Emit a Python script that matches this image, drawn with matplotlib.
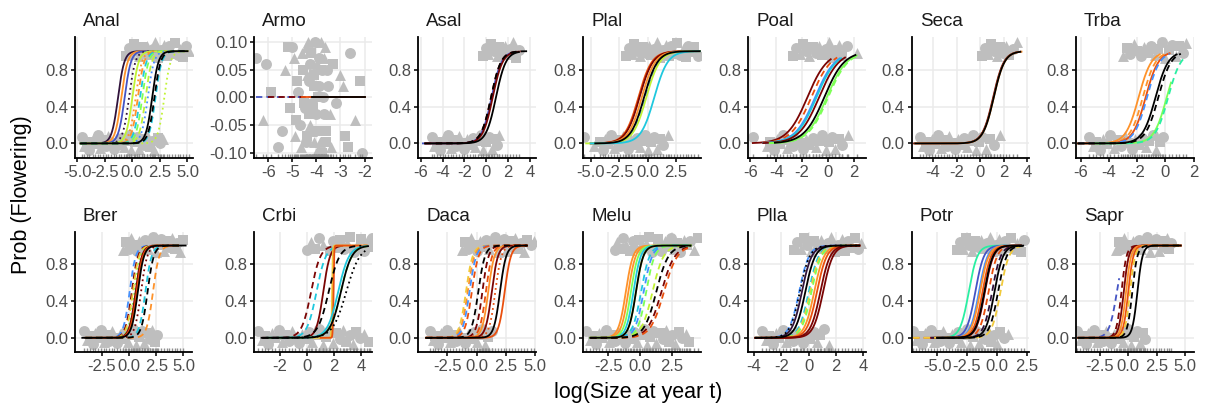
import numpy as np
import matplotlib.pyplot as plt
from matplotlib.transforms import blended_transform_factory

plt.rcParams["font.family"] = ["Liberation Sans", "DejaVu Sans"]

# ---- data -------------------------------------------------------------
species = ["Anal", "Armo", "Asal", "Plal", "Poal", "Seca", "Trba",
           "Brer", "Crbi", "Daca", "Melu", "Plla", "Potr", "Sapr"]

x_ticklabels = [
    ["-5.0", "-2.5", "0.0", "2.5", "5.0"],
    ["-6", "-5", "-4", "-3", "-2"],
    ["-6", "-4", "-2", "0", "2", "4"],
    ["-5.0", "-2.5", "0.0", "2.5"],
    ["-6", "-4", "-2", "0", "2"],
    ["-4", "-2", "0", "2", "4"],
    ["-6", "-4", "-2", "0", "2"],
    ["-2.5", "0.0", "2.5", "5.0"],
    ["-2", "0", "2", "4"],
    ["-2.5", "0.0", "2.5", "5.0"],
    ["-2.5", "0.0", "2.5"],
    ["-4", "-2", "0", "2", "4"],
    ["-5.0", "-2.5", "0.0", "2.5"],
    ["-2.5", "0.0", "2.5", "5.0"],
]
y_ticklabels = ["0.0", "0.4", "0.8"]
armo_yticklabels = ["-0.10", "-0.05", "0.00", "0.05", "0.10"]

x_lims = [(-5.21, 5.46), (-6.58, -1.70), (-6.22, 4.55), (-5.65, 4.69),
          (-6.15, 2.90), (-5.80, 4.15), (-6.35, 2.00), (-4.97, 5.83),
          (-3.89, 4.78), (-4.96, 5.05), (-4.45, 4.80), (-4.42, 4.17),
          (-7.12, 2.70), (-4.59, 5.72)]

# vertical jitter of the observed points (0 = not flowering, 1 = flowering)
jit = [0.07, -0.04, 0.01, -0.09, 0.05, -0.02, 0.09, -0.07, 0.03, -0.05,
       0.08, -0.01, -0.08, 0.04, -0.03, 0.06, -0.06, 0.02, 0.10, -0.10,
       0.00, 0.07, -0.08, 0.05, -0.03, 0.09, -0.06, 0.02, -0.09, 0.06,
       -0.01, 0.04, -0.07, 0.08, -0.04, 0.03, -0.10, 0.10, -0.02, 0.05]

# log size of non-flowering (lo) and flowering (hi) individuals
anal_lo = [-4.6, -4.4, -4.1, -3.9, -3.6, -3.4, -3.1, -2.9, -2.7, -2.4, -2.2, -1.9, -1.7, -1.5, -1.2, -1.0,
           -0.8, -0.5, -0.3, -0.1, 0.2, 0.4, 0.6, 0.9, 1.1, 1.3, 1.6, 1.8, 2.0, 2.3, 2.5, 2.8]
anal_hi = [-0.6, -0.35, -0.1, 0.15, 0.4, 0.6, 0.85, 1.1, 1.35, 1.6, 1.85, 2.1, 2.35, 2.6, 2.85, 3.1,
           3.35, 3.6, 3.85, 4.1, 4.35, 4.6, 4.85, 5.15]
armo_lo = [-6.5, -6.2, -5.9, -5.6, -5.3, -5.1, -5.0, -4.9, -4.8, -4.7, -4.6, -4.5, -4.45, -4.4, -4.3, -4.25,
           -4.2, -4.1, -4.05, -4.0, -3.95, -3.9, -3.85, -3.8, -3.7, -3.65, -3.6, -3.5, -3.4, -3.3, -3.2, -3.0,
           -2.8, -2.6, -2.4, -2.2, -2.1, -4.35, -4.15, -3.75,
           -4.95, -4.85, -4.75, -4.65, -4.55, -4.48, -4.42, -4.38, -4.32, -4.28, -4.22, -4.18, -4.12, -4.08,
           -4.02, -3.98, -3.92, -3.88, -3.82, -3.78, -3.72, -3.68, -3.62, -3.55, -3.45, -5.2, -5.45, -2.9,
           -2.7, -6.1]
armo_hi = []
asal_lo = [-5.0, -4.75, -4.5, -4.25, -4.0, -3.75, -3.5, -3.25, -3.0, -2.75, -2.5, -2.25, -2.0, -1.75, -1.5,
           -1.25, -1.0, -0.75, -0.5, -0.25, 0.0, 0.25, 0.5, 0.75, 1.0, 1.2]
asal_hi = [-0.3, -0.05, 0.2, 0.45, 0.7, 0.95, 1.2, 1.45, 1.7, 1.95, 2.2, 2.45, 2.7, 3.0]
plal_lo = [-5.6, -4.7, -4.2, -3.95, -3.7, -3.45, -3.2, -2.95, -2.7, -2.45, -2.2, -1.95, -1.7, -1.45, -1.2,
           -0.95, -0.7, -0.45, -0.2, 0.05, 0.3, 0.55, 0.8, 1.1, 1.4, 1.8]
plal_hi = [-1.9, -1.65, -1.4, -1.15, -0.9, -0.65, -0.4, -0.15, 0.1, 0.35, 0.6, 0.85, 1.1, 1.35, 1.6, 1.85,
           2.1, 2.35, 2.6, 2.85, 3.1, 3.35, 3.6, 3.85, 4.1, 4.4]
poal_lo = [-5.8, -4.7, -4.45, -4.2, -3.95, -3.7, -3.45, -3.2, -2.95, -2.7, -2.45, -2.2, -1.95, -1.7, -1.45,
           -1.2, -0.95, -0.7, -0.45, -0.2, 0.05, 0.3, 0.55, 0.8, 1.1, 1.5]
poal_hi = [-2.7, -2.45, -2.2, -1.95, -1.7, -1.45, -1.2, -0.95, -0.7, -0.45, -0.2, 0.05, 0.3, 0.55, 0.8, 1.1,
           1.45, 2.25]
seca_lo = [-5.1, -4.85, -4.6, -4.35, -4.1, -3.85, -3.6, -3.35, -3.1, -2.85, -2.6, -2.35, -2.1, -1.85, -1.6,
           -1.35, -1.1, -0.85, -0.6, -0.35, -0.1, 0.15, 0.45, 0.8, 1.2, 1.7]
seca_hi = [0.15, 0.4, 0.65, 0.9, 1.15, 1.4, 1.65, 1.9, 2.15, 2.45, 2.75, 3.1]
trba_lo = [-5.4, -5.15, -4.9, -4.65, -4.4, -4.15, -3.9, -3.65, -3.4, -3.15, -2.9, -2.65, -2.4, -2.15, -1.9,
           -1.65, -1.4, -1.15, -0.9, -0.65, -0.4, -0.2]
trba_hi = [-3.0, -2.75, -2.5, -2.25, -2.0, -1.75, -1.5, -1.25, -1.0, -0.75, -0.5, -0.25, 0.0, 0.25, 0.5,
           0.75, 1.0, 1.25, 1.5]
brer_lo = [-4.1, -3.85, -3.6, -3.35, -3.1, -2.85, -2.6, -2.35, -2.1, -1.85, -1.6, -1.35, -1.1, -0.85, -0.6,
           -0.35, -0.1, 0.15, 0.4, 0.65, 0.9, 1.15, 1.4, 1.65, 1.9, 2.15, 2.4, 2.6]
brer_hi = [-0.55, -0.3, -0.05, 0.2, 0.45, 0.7, 0.95, 1.2, 1.45, 1.7, 1.95, 2.2, 2.45, 2.7, 2.95, 3.2, 3.45,
           3.7, 3.95, 4.2, 4.45, 4.7, 5.0]
crbi_lo = [-3.6, -3.35, -3.1, -2.85, -2.6, -2.35, -2.1, -1.85, -1.6, -1.35, -1.1, -0.85, -0.6, -0.35, -0.1,
           0.15, 0.4, 0.65, 0.9, 1.15, 1.4, 1.65, 1.9, 2.15, 2.4, 2.65, 2.9, 3.15, 3.4, 3.65, 3.9, 4.2, 4.6]
crbi_hi = [0.0, 0.3, 0.6, 0.9, 1.2, 1.7, 1.95, 2.2, 2.45, 2.7, 2.95, 3.2, 3.45, 3.7, 3.95, 4.2, 4.45, 4.65,
           4.8]
daca_lo = [-4.0, -3.75, -3.5, -3.25, -3.0, -2.75, -2.5, -2.25, -2.0, -1.75, -1.5, -1.25, -1.0, -0.75, -0.5,
           -0.25, 0.0, 0.25, 0.5, 0.75, 1.0, 1.3]
daca_hi = [-1.2, -0.95, -0.7, -0.45, -0.2, 0.05, 0.3, 0.55, 0.8, 1.05, 1.3, 1.55, 1.8, 2.05, 2.3, 2.55, 2.8,
           3.05, 3.3, 3.55, 3.8, 4.05, 4.3, 4.6, 4.9]
melu_lo = [-4.2, -3.95, -3.7, -3.45, -3.2, -2.95, -2.7, -2.45, -2.2, -1.95, -1.7, -1.45, -1.2, -0.95, -0.7,
           -0.45, -0.2, 0.05, 0.3, 0.55, 0.8, 1.05, 1.3, 1.55, 1.8, 2.05, 2.3, 2.55, 2.8, 3.05, 3.3, 3.6, 3.9]
melu_hi = [-1.95, -1.8, -1.55, -1.3, -1.05, -0.8, -0.55, -0.3, -0.05, 0.2, 0.45, 0.7, 0.95, 1.2, 1.45, 1.7,
           1.95, 2.2, 2.45, 2.7, 2.95, 3.2, 3.45, 3.7, 3.95, 4.25, 4.6]
plla_lo = [-3.4, -3.15, -2.9, -2.65, -2.4, -2.15, -1.9, -1.65, -1.4, -1.15, -0.9, -0.65, -0.4, -0.15, 0.1,
           0.35, 0.6, 0.85, 1.1, 1.47]
plla_hi = [-1.1, -0.85, -0.6, -0.35, -0.1, 0.15, 0.4, 0.65, 0.9, 1.15, 1.4, 1.65, 1.9, 2.15, 2.4, 2.65, 2.9,
           3.15, 3.4, 3.6, 3.8]
potr_lo = [-7.0, -6.75, -6.5, -6.25, -6.0, -5.75, -5.5, -5.25, -5.0, -4.75, -4.5, -4.25, -4.0, -3.75, -3.5,
           -3.25, -3.0, -2.75, -2.5, -2.25, -2.0, -1.75, -1.5, -1.25, -1.0, -0.75, -0.5, -0.25, 0.0, 0.3,
           0.6, 0.9]
potr_hi = [-3.3, -3.05, -2.8, -2.55, -2.3, -2.05, -1.8, -1.55, -1.3, -1.05, -0.8, -0.55, -0.3, -0.05, 0.2,
           0.45, 0.7, 0.95, 1.2, 1.45, 1.7, 2.0, 2.3]
sapr_lo = [-4.5, -4.25, -4.0, -3.75, -3.5, -3.25, -3.0, -2.75, -2.5, -2.25, -2.0, -1.75, -1.5, -1.25, -1.0,
           -0.75, -0.5, -0.25, 0.0, 0.25, 0.5, 0.75, 1.0, 1.25, 1.45]
sapr_hi = [-1.1, -0.85, -0.6, -0.35, -0.1, 0.15, 0.4, 0.65, 0.9, 1.15, 1.4, 1.65, 1.9, 2.15, 2.4, 2.65, 2.9,
           3.15, 3.4, 3.6, 3.75]

# fitted logistic curves: (midpoint, slope, year, site, size from, size to)
# year -1 = overall mean (black); site 0/1/2 -> linetype
anal_curves = [(-1.3, 3.5, 0, 0, -4.7, 5.0), (-1.0, 3.5, 8, 0, -4.7, 5.0), (-0.7, 3.5, 1, 0, -4.7, 5.0),
               (-0.3, 3.5, 0, 2, -4.7, 5.0), (0.0, 3.5, 6, 0, -4.7, 5.0), (0.3, 3.5, 8, 2, -4.7, 5.0),
               (0.5, 3.5, 8, 1, -4.7, 5.0), (0.7, 3.5, 3, 1, -4.7, 5.0), (0.9, 3.5, 5, 1, -4.7, 5.0),
               (1.2, 3.5, 6, 1, -4.7, 5.0), (1.4, 3.5, 2, 2, -4.7, 5.0), (2.1, 3.5, 3, 1, -4.7, 5.0),
               (2.9, 3.5, 6, 2, -4.7, 5.0), (1.8, 3.5, -1, 0, -4.7, 5.0), (2.0, 3.5, -1, 1, -4.7, 5.0)]
armo_curves = [(30, 1.0, 1, 1, -6.5, -2.0), (30, 1.0, 10, 1, -6.0, -2.0), (30, 1.0, 9, 0, -4.6, -2.0),
               (30, 1.0, -1, 0, -4.2, -2.0)]
asal_curves = [(0.5, 2.2, 1, 0, -5.8, 2.6), (0.6, 2.2, 10, 0, -5.6, 3.0), (0.45, 2.2, 10, 1, -5.6, 3.2),
               (0.45, 2.2, -1, 1, -4.6, 3.8), (0.9, 2.2, -1, 0, -5.6, 3.0)]
plal_curves = [(-0.8, 1.7, 9, 0, -5.0, 4.6), (-0.7, 1.7, 10, 0, -5.0, 4.6), (-0.5, 1.7, 8, 0, -5.0, 4.6),
               (-0.2, 1.7, 2, 1, -5.0, 4.6), (-0.1, 1.7, 6, 0, -5.4, 4.6), (0.6, 1.7, 3, 0, -5.0, 4.6),
               (-0.3, 1.7, -1, 0, -4.6, 4.6)]
poal_curves = [(-1.6, 1.3, 10, 0, -5.8, 0.2), (-1.3, 1.3, 9, 1, -5.0, 0.7), (-1.0, 1.3, 2, 0, -5.0, 0.9),
               (-0.9, 1.3, 3, 0, -5.0, 1.0), (-0.7, 1.3, 10, 0, -5.0, 1.3), (0.0, 1.3, 5, 1, -4.5, 2.3),
               (-0.1, 1.3, 5, 0, -4.5, 2.2), (-0.3, 1.3, -1, 0, -4.1, 2.1)]
seca_curves = [(1.1, 2.2, 10, 0, -5.6, 3.4), (1.15, 2.2, 8, 0, -5.5, 3.5), (1.15, 2.2, -1, 0, -5.5, 3.4)]
trba_curves = [(-1.9, 2.2, 8, 0, -6.2, -0.4), (-1.6, 2.2, 8, 1, -6.2, 0.0), (-1.4, 2.2, 9, 0, -6.2, 0.3),
               (-1.3, 2.2, 2, 1, -6.2, 0.3), (0.1, 2.2, 5, 0, -5.0, 0.4), (0.2, 2.2, 4, 1, -5.0, 1.35),
               (-0.7, 2.2, -1, 0, -6.2, 0.8), (-0.5, 2.2, -1, 1, -6.2, 1.1)]
brer_curves = [(0.05, 3.5, 2, 1, -4.0, 4.5), (0.25, 3.5, 10, 1, -4.0, 4.5), (0.35, 3.5, 7, 1, -4.0, 4.5),
               (0.5, 3.5, 5, 2, -4.0, 4.5), (0.6, 3.5, 10, 0, -4.0, 4.5), (0.7, 3.5, 9, 0, -4.0, 4.5),
               (1.1, 3.5, 10, 2, -4.0, 4.5), (1.5, 3.5, 3, 1, -4.0, 4.5), (2.2, 3.5, 8, 1, -4.0, 4.8),
               (0.8, 3.5, -1, 0, -4.3, 5.2), (1.7, 3.5, -1, 1, -4.0, 4.8)]
crbi_curves = [(0.3, 2.9, 10, 1, -3.3, 2.0), (0.7, 2.9, 3, 1, -3.0, 2.4), (1.2, 4.0, 10, 0, -3.0, 2.6),
               (1.85, 40, 7, 0, 0.5, 4.4), (1.95, 40, 9, 0, 1.0, 4.4), (2.3, 2.5, 3, 0, -3.0, 4.4),
               (2.5, 2.5, 5, 1, -3.0, 4.4), (1.6, 2.5, -1, 1, -3.3, 4.0), (2.5, 2.5, -1, 0, -3.35, 4.5),
               (2.9, 2.0, -1, 2, -3.0, 4.3)]
daca_curves = [(-0.9, 3.5, 7, 1, -4.3, 4.3), (-0.75, 3.5, 8, 1, -4.3, 4.3), (-0.6, 3.5, 2, 1, -4.3, 4.3),
               (-0.4, 3.5, 9, 1, -4.3, 4.3), (0.5, 3.8, 10, 1, -4.3, 4.3), (0.8, 3.8, 9, 1, -4.3, 4.3),
               (1.0, 3.8, 8, 0, -4.3, 4.3), (1.3, 3.8, 10, 0, -4.3, 4.3), (1.6, 3.8, 9, 2, -4.3, 4.3),
               (2.4, 3.8, 9, 0, -4.3, 4.3), (0.15, 3.5, -1, 1, -4.3, 4.3), (2.0, 3.8, -1, 0, -4.3, 4.3)]
melu_curves = [(-1.1, 3.5, 8, 0, -3.9, 4.0), (-0.9, 3.5, 8, 0, -3.9, 4.0), (-0.7, 3.5, 5, 0, -3.9, 4.0),
               (-0.5, 3.5, 3, 0, -3.9, 4.0), (-0.3, 3.5, 6, 0, -3.9, 4.0), (0.1, 3.0, 3, 1, -3.9, 4.0),
               (0.3, 3.0, 2, 1, -3.9, 4.0), (0.5, 3.0, 5, 1, -3.9, 4.0), (1.0, 2.3, 6, 1, -3.9, 4.0),
               (1.7, 1.9, 10, 1, -3.9, 4.0), (1.9, 1.9, 9, 1, -3.9, 4.0), (-0.3, 3.5, -1, 0, -3.9, 4.0),
               (1.3, 2.1, -1, 1, -3.9, 4.0)]
plla_curves = [(-0.7, 2.8, 2, 1, -3.9, 3.7), (-0.5, 2.8, 0, 0, -3.9, 3.7), (0.0, 2.8, 3, 1, -3.9, 3.7),
               (0.1, 2.8, 7, 1, -3.9, 3.7), (0.2, 2.8, 5, 1, -3.9, 3.7), (0.4, 2.8, 8, 0, -3.9, 3.7),
               (0.6, 2.8, 9, 0, -3.9, 3.7), (0.85, 2.8, 10, 0, -3.9, 3.7), (1.05, 2.8, 10, 0, -3.9, 3.7),
               (-0.65, 2.8, -1, 2, -3.9, 3.7), (-0.25, 2.8, -1, 0, -3.9, 3.7)]
potr_curves = [(-2.35, 2.8, 4, 0, -5.5, 2.0), (-1.8, 2.8, 1, 0, -5.5, 2.0), (-1.5, 2.8, 2, 0, -5.5, 2.0),
               (-1.4, 2.8, 8, 0, -5.5, 2.0), (-1.2, 2.8, 9, 0, -5.5, 2.0), (-1.0, 2.8, 10, 0, -5.5, 2.0),
               (-0.7, 2.8, 9, 1, -7.0, 1.5), (-0.4, 2.8, 0, 1, -5.5, 2.0), (0.3, 2.8, 7, 1, -7.0, 2.3),
               (-1.05, 2.8, -1, 0, -5.0, 2.0), (-0.2, 2.8, -1, 0, -5.0, 2.2), (0.1, 2.8, -1, 1, -5.0, 2.2)]
sapr_curves = [(-1.0, 3.0, 1, 1, -4.4, -0.8), (-0.6, 4.5, 10, 1, -4.4, 4.6), (-0.4, 4.5, 10, 0, -4.4, 4.6),
               (-0.2, 4.5, 8, 0, -4.4, 4.6), (0.0, 4.5, 9, 0, -4.4, 4.6), (0.15, 4.5, 7, 1, -4.4, 4.6),
               (0.35, 4.5, -1, 1, -4.4, 4.6), (0.8, 4.5, -1, 0, -4.4, 4.6)]

lo_sizes = [anal_lo, armo_lo, asal_lo, plal_lo, poal_lo, seca_lo, trba_lo,
            brer_lo, crbi_lo, daca_lo, melu_lo, plla_lo, potr_lo, sapr_lo]
hi_sizes = [anal_hi, armo_hi, asal_hi, plal_hi, poal_hi, seca_hi, trba_hi,
            brer_hi, crbi_hi, daca_hi, melu_hi, plla_hi, potr_hi, sapr_hi]
all_curves = [anal_curves, armo_curves, asal_curves, plal_curves, poal_curves, seca_curves, trba_curves,
              brer_curves, crbi_curves, daca_curves, melu_curves, plla_curves, potr_curves, sapr_curves]

# ---- style ------------------------------------------------------------
year_colors = ["#30123B", "#4454C4", "#4490FE", "#1FC8DE", "#29EFA2", "#7DFF56",
               "#C1F334", "#F1CA3A", "#FE922A", "#EA4F0D", "#7A0403"]
site_dash = ["-", (0, (3.5, 2.3)), (0, (1, 1.8))]
markers = ["o", "^", "s"]

W, H = 1208, 412
fig = plt.figure(figsize=(W / 100, H / 100), dpi=100)

panel_left = [75, 254.3, 418.3, 583.3, 748.3, 911.7, 1076]
row_top = [37.3, 231.7]
pw, ph = 117.5, 120.7

for i, name in enumerate(species):
    r, c = divmod(i, 7)
    left, top = panel_left[c], row_top[r]
    ax = fig.add_axes([left / W, 1 - (top + ph) / H, pw / W, ph / H])

    # points (jitter spread is wider in the all-zero Armo panel)
    spread = 1.0 if name == "Armo" else 0.85
    base = 0.0 if name == "Armo" else 0.01
    lo = np.array(lo_sizes[i])
    hi = np.array(hi_sizes[i])
    ylo = np.array([base + spread * jit[k % len(jit)] for k in range(len(lo))])
    yhi = np.array([1.0 + base + spread * jit[(k + 7) % len(jit)] for k in range(len(hi))])
    xs = np.concatenate([lo, hi])
    ys = np.concatenate([ylo, yhi])
    idx = np.arange(len(xs))
    for m, mk in enumerate(markers):
        sel = idx % 3 == m
        ax.scatter(xs[sel], ys[sel], s=62, marker=mk, color="#BEBEBE",
                   linewidths=0, zorder=2)

    # rug
    tr = blended_transform_factory(ax.transData, ax.transAxes)
    ax.vlines(xs, 0, 0.035, transform=tr, color="#8F8F8F", lw=1.0, zorder=2)

    # curves
    for mid, k, yr, site, x0, x1 in all_curves[i]:
        xx = np.linspace(x0, x1, 300)
        pp = 1 / (1 + np.exp(-k * (xx - mid)))
        col = "black" if yr < 0 else year_colors[yr]
        ax.plot(xx, pp, color=col, lw=1.3, linestyle=site_dash[site],
                zorder=4 if yr < 0 else 3)

    ax.set_xlim(*x_lims[i])
    xt = x_ticklabels[i]
    ax.set_xticks([float(t) for t in xt])
    ax.set_xticklabels(xt)
    if name == "Armo":
        ax.set_ylim(-0.109, 0.108)
        ax.set_yticks([float(t) for t in armo_yticklabels])
        ax.set_yticklabels(armo_yticklabels)
    else:
        ax.set_ylim(-0.158, 1.15)
        ax.set_yticks([float(t) for t in y_ticklabels])
        ax.set_yticklabels(y_ticklabels)

    ax.grid(True, color="#EBEBEB", lw=1.1)
    ax.set_axisbelow(True)
    for s in ["top", "right"]:
        ax.spines[s].set_visible(False)
    for s in ["left", "bottom"]:
        ax.spines[s].set_linewidth(1.3)
        ax.spines[s].set_color("black")
    ax.tick_params(length=3, width=1.1, color="black", labelsize=12,
                   labelcolor="#4D4D4D", pad=2)

    fig.text((left + 8) / W, 1 - (top - 11) / H, name, fontsize=13.5,
             color="#1A1A1A", ha="left", va="baseline")

fig.text(638 / W, 1 - 398 / H, "log(Size at year t)", fontsize=15.5,
         ha="center", va="baseline")
fig.text(22 / W, 1 - 195 / H, "Prob (Flowering)", fontsize=15.5,
         ha="center", va="center", rotation=90)

fig.savefig("out.png", dpi=100, facecolor="white")
